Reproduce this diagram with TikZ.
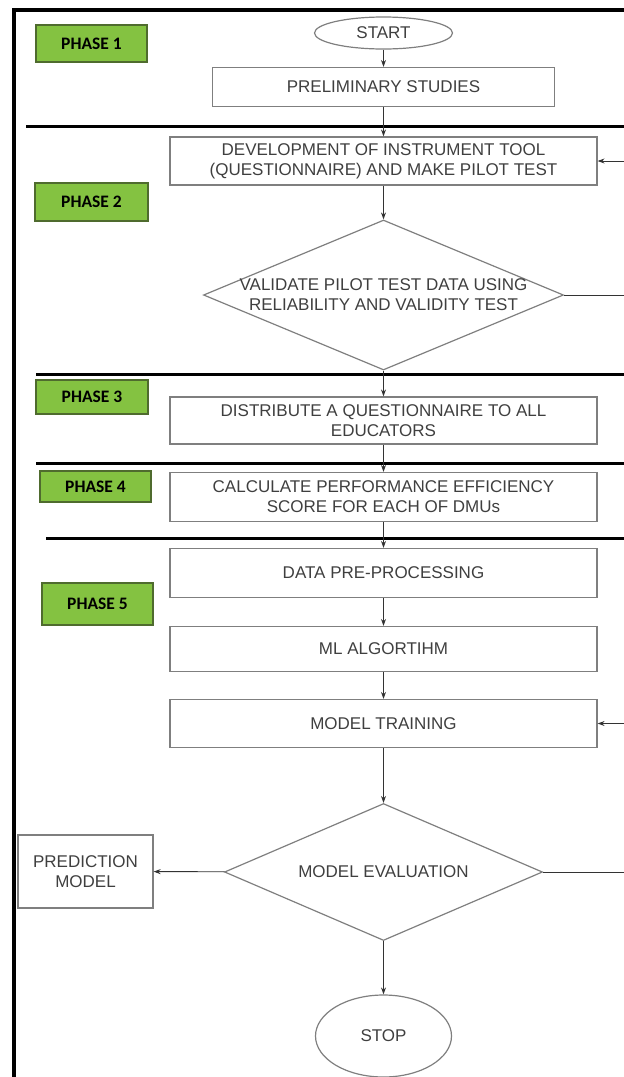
\documentclass[tikz,border=0pt]{standalone}
\usepackage{fontspec}
\setmainfont{Liberation Sans}
\newfontfamily\phasefont{Carlito}
\usepackage{tikz}
\usetikzlibrary{shapes.geometric, arrows.meta}
\usepackage{xcolor}
\definecolor{PhaseGreen}{HTML}{84C241}
\definecolor{PhaseEdge}{HTML}{4F6B2E}
\definecolor{BoxGray}{HTML}{7F7F7F}
\definecolor{TextGray}{HTML}{3F3F3F}
\definecolor{ArrowGray}{HTML}{333333}
\tikzset{
    % Node styles - flat boxes, gray outlines
    phasebox/.style={
        rectangle,
        draw=PhaseEdge,
        fill=PhaseGreen,
        line width=1.2pt,
        minimum width=111pt,
        text=black,
        font=\phasefont\bfseries\fontsize{17.5}{19}\selectfont
    },
    processbox/.style={
        rectangle,
        draw=BoxGray,
        line width=1.2pt,
        minimum width=427pt,
        align=center,
        text=TextGray,
        font=\fontsize{17}{20}\selectfont
    },
    decision/.style={
        diamond,
        draw=BoxGray,
        line width=1.2pt,
        inner sep=0pt
    },
    decisiontext/.style={
        align=center,
        text=TextGray,
        font=\fontsize{17}{20}\selectfont
    },
    terminal/.style={
        ellipse,
        draw=BoxGray,
        line width=1.2pt,
        inner sep=0pt,
        text=TextGray,
        font=\fontsize{17}{20}\selectfont
    },
    % Arrow styles
    myarrow/.style={
        -{Stealth[length=7pt,width=5pt]},
        ArrowGray,
        line width=0.9pt
    },
    myline/.style={
        ArrowGray,
        line width=0.9pt
    },
    % Frame styles
    frameline/.style={
        black,
        line width=4pt
    },
    phaseline/.style={
        black,
        line width=3pt
    }
}

\begin{document}
\begin{tikzpicture}[x=1pt, y=-1pt]
    \useasboundingbox (0,0) rectangle (624,1077);

    % frame and phase separators
    \draw[frameline] (14,1077) -- (14,10) -- (624,10);
    \draw[phaseline] (26,126) -- (624,126);
    \draw[phaseline] (36,374) -- (624,374);
    \draw[phaseline] (36,463) -- (624,463);
    \draw[phaseline] (46,538) -- (624,538);

    % phase labels
    \node[phasebox, minimum height=37pt] (p1) at (91.5,43.5) {PHASE 1};
    \node[phasebox, minimum height=38pt, minimum width=113pt] (p2) at (91.5,202) {PHASE 2};
    \node[phasebox, minimum height=34pt, minimum width=112pt] (p3) at (92,397) {PHASE 3};
    \node[phasebox, minimum height=31pt] (p4) at (95.5,486.5) {PHASE 4};
    \node[phasebox, minimum height=42pt] (p5) at (97.5,604) {PHASE 5};

    % main flow
    \node[terminal, minimum width=138pt, minimum height=32pt] (start) at (383.5,33) {START};
    \node[processbox, minimum width=342pt, minimum height=39pt] (prelim) at (383.5,87) {PRELIMINARY STUDIES};
    \node[processbox, minimum height=48pt] (dev) at (383.5,161) {DEVELOPMENT OF INSTRUMENT TOOL\\(QUESTIONNAIRE) AND MAKE PILOT TEST};
    \node[decision, minimum width=360pt, minimum height=150pt] (valid) at (383.5,295) {};
    \node[decisiontext] (validtxt) at (valid.center) {VALIDATE PILOT TEST DATA USING\\RELIABILITY AND VALIDITY TEST};
    \node[processbox, minimum height=47pt] (distribute) at (383.5,420.5) {DISTRIBUTE A QUESTIONNAIRE TO ALL\\EDUCATORS};
    \node[processbox, minimum height=49pt] (calc) at (383.5,497) {CALCULATE PERFORMANCE EFFICIENCY\\SCORE FOR EACH OF DMUs};
    \node[processbox, minimum height=49pt] (prep) at (383.5,573) {DATA PRE-PROCESSING};
    \node[processbox, minimum height=45pt] (mlalg) at (383.5,649) {ML ALGORTIHM};
    \node[processbox, minimum height=48pt] (train) at (383.5,723.5) {MODEL TRAINING};
    \node[decision, minimum width=318pt, minimum height=137pt] (eval) at (383.5,872) {};
    \node[decisiontext] (evaltxt) at (eval.center) {MODEL EVALUATION};
    \node[processbox, minimum width=135pt, minimum height=73pt] (predict) at (85.5,871.5) {PREDICTION\\MODEL};
    \node[terminal, minimum width=136pt, minimum height=82pt] (stop) at (383.5,1036) {STOP};

    % loose ends of the feedback loops (cut off at the right edge)
    \coordinate (validout) at (624,295);
    \coordinate (devin) at (624,161);
    \coordinate (evalout) at (624,872);
    \coordinate (trainin) at (624,723.5);

    \draw[myarrow] (start) -- (prelim);
    \draw[myarrow] (prelim) -- (dev);
    \draw[myarrow] (dev) -- (valid);
    \draw[myarrow] (valid) -- (distribute);
    \draw[myarrow] (distribute) -- (calc);
    \draw[myarrow] (calc) -- (prep);
    \draw[myarrow] (prep) -- (mlalg);
    \draw[myarrow] (mlalg) -- (train);
    \draw[myarrow] (train) -- (eval);
    \draw[myarrow] (eval) -- (stop);
    \draw[myarrow] (eval) -- (predict);
    \draw[myline] (valid.east) -- (validout);
    \draw[myarrow] (devin) -- (dev.east);
    \draw[myline] (eval.east) -- (evalout);
    \draw[myarrow] (trainin) -- (train.east);
\end{tikzpicture}
\end{document}
